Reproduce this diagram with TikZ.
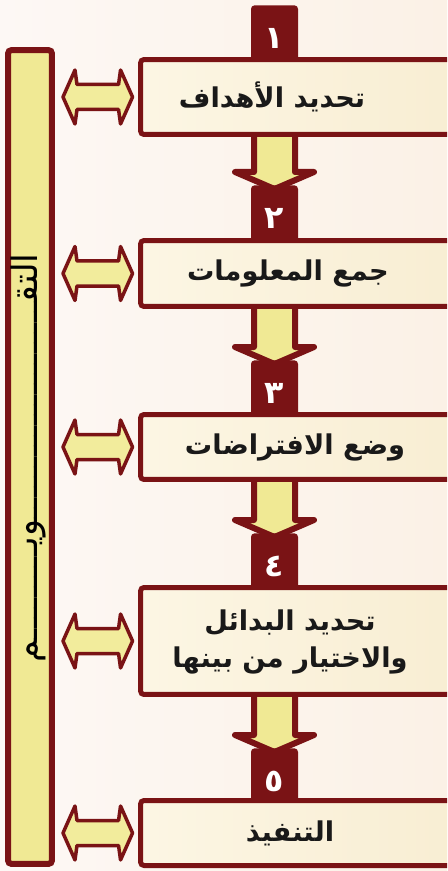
\documentclass[tikz,border=0pt]{standalone}
\usepackage{fontspec}
\usepackage{tikz}
\usetikzlibrary{calc,backgrounds}
\newfontfamily\arabicfont[Script=Arabic]{DejaVu Sans}
\TeXXeTstate=1
\definecolor{boxred}{HTML}{7A1315}
\definecolor{barfill}{HTML}{F0E994}
\definecolor{arrowfill}{HTML}{F2EC9C}
\definecolor{creamleft}{HTML}{FCF6E4}
\definecolor{creamright}{HTML}{F8EDD2}
\definecolor{bgleft}{HTML}{FDF8F5}
\definecolor{bgright}{HTML}{FBF1E6}
\tikzset{every picture/.style={x=0.02cm,y=-0.02cm}}
\tikzset{
  stagebox/.style={draw=boxred, line width=0.1cm, left color=creamleft, right color=creamright,
    rounded corners=2pt, minimum width=6.59cm, inner sep=0pt},
  numtab/.style={fill=boxred, rounded corners=2pt, minimum width=0.94cm, minimum height=1.32cm,
    inner sep=0pt, anchor=north, text=white, font=\arabicfont\bfseries\fontsize{18}{20}\selectfont},
  stagetext/.style={align=center, inner sep=0pt, text=black!90,
    font=\arabicfont\bfseries\fontsize{15.5}{21}\selectfont},
  feedbar/.style={draw=boxred, line width=0.12cm, fill=barfill, rounded corners=2pt,
    minimum width=0.88cm, minimum height=16.28cm, inner sep=0pt},
  sidearrow/.style={draw=boxred, line width=0.07cm, fill=arrowfill, line join=round},
  downarrow/.style={draw=boxred, line width=0.12cm, fill=barfill, line join=round}
}

\begin{document}
\begin{tikzpicture}
  \useasboundingbox (0,0) rectangle (447,871);
  \clip (0,0) rectangle (447,871);

  % Feedback bar on the left
  \node[feedbar] (bar) at (30,457) {};
  \node[rotate=90, anchor=base, inner sep=0pt, font=\arabicfont\fontsize{20}{24}\selectfont] (fbtext) at (37,458)
    {\beginR التقـــــــــــــــــــــويـــــــــم\endR};

  % Number tabs
  \node[numtab] (t1) at (274.5,5) {١};
  \node[numtab] (t2) at (274.5,185) {٢};
  \node[numtab] (t3) at (274.5,360) {٣};
  \node[numtab] (t4) at (274.5,533) {٤};
  \node[numtab] (t5) at (274.5,748) {٥};

  % Stage boxes
  \node[stagebox, minimum height=1.5cm] (b1) at (305.25,97) {};
  \node[stagebox, minimum height=1.32cm] (b2) at (305.25,273.5) {};
  \node[stagebox, minimum height=1.3cm] (b3) at (305.25,447) {};
  \node[stagebox, minimum height=2.14cm] (b4) at (305.25,641) {};
  \node[stagebox, minimum height=1.3cm] (b5) at (305.25,833) {};

  % Labels
  \node[stagetext] (l1) at (272,97) {\beginR تحديد الأهداف\endR};
  \node[stagetext] (l2) at (288,273) {\beginR جمع المعلومات\endR};
  \node[stagetext] (l3) at (295,447) {\beginR وضع الافتراضات\endR};
  \node[stagetext] (l4) at (290,642) {\beginR تحديد البدائل\endR\\\beginR والاختيار من بينها\endR};
  \node[stagetext] (l5) at (290,833) {\beginR التنفيذ\endR};

  \begin{pgfonlayer}{background}
    \shade[left color=bgleft, right color=bgright] (0,0) rectangle (447,871);
    % Arrows down to the next stage
    \foreach \a/\b in {1/2,2/3,3/4,4/5}{
      \draw[downarrow] ($(b\a.south -| t\b.north)+(-20.5,-6)$) -- ($(t\b.north)+(-20.5,-13)$)
        -- ($(t\b.north)+(-39.5,-13)$) -- ($(t\b.north)+(0,4)$) -- ($(t\b.north)+(39.5,-13)$)
        -- ($(t\b.north)+(20.5,-13)$) -- ($(b\a.south -| t\b.north)+(20.5,-6)$) -- cycle;
    }
    % Double arrows between bar and boxes
    \foreach \i in {1,...,5}{
      \coordinate (sl\i) at ($(bar.east |- b\i.west)+(8,0)$);
      \coordinate (sr\i) at ($(b\i.west)+(-5.5,0)$);
      \draw[sidearrow] (sl\i) -- ($(sl\i)+(12,-27)$) -- ($(sl\i)+(14,-12.5)$) -- ($(sr\i)+(-14,-12.5)$)
        -- ($(sr\i)+(-12,-27)$) -- (sr\i) -- ($(sr\i)+(-12,27)$) -- ($(sr\i)+(-14,12.5)$)
        -- ($(sl\i)+(14,12.5)$) -- ($(sl\i)+(12,27)$) -- cycle;
    }
  \end{pgfonlayer}
\end{tikzpicture}
\end{document}
